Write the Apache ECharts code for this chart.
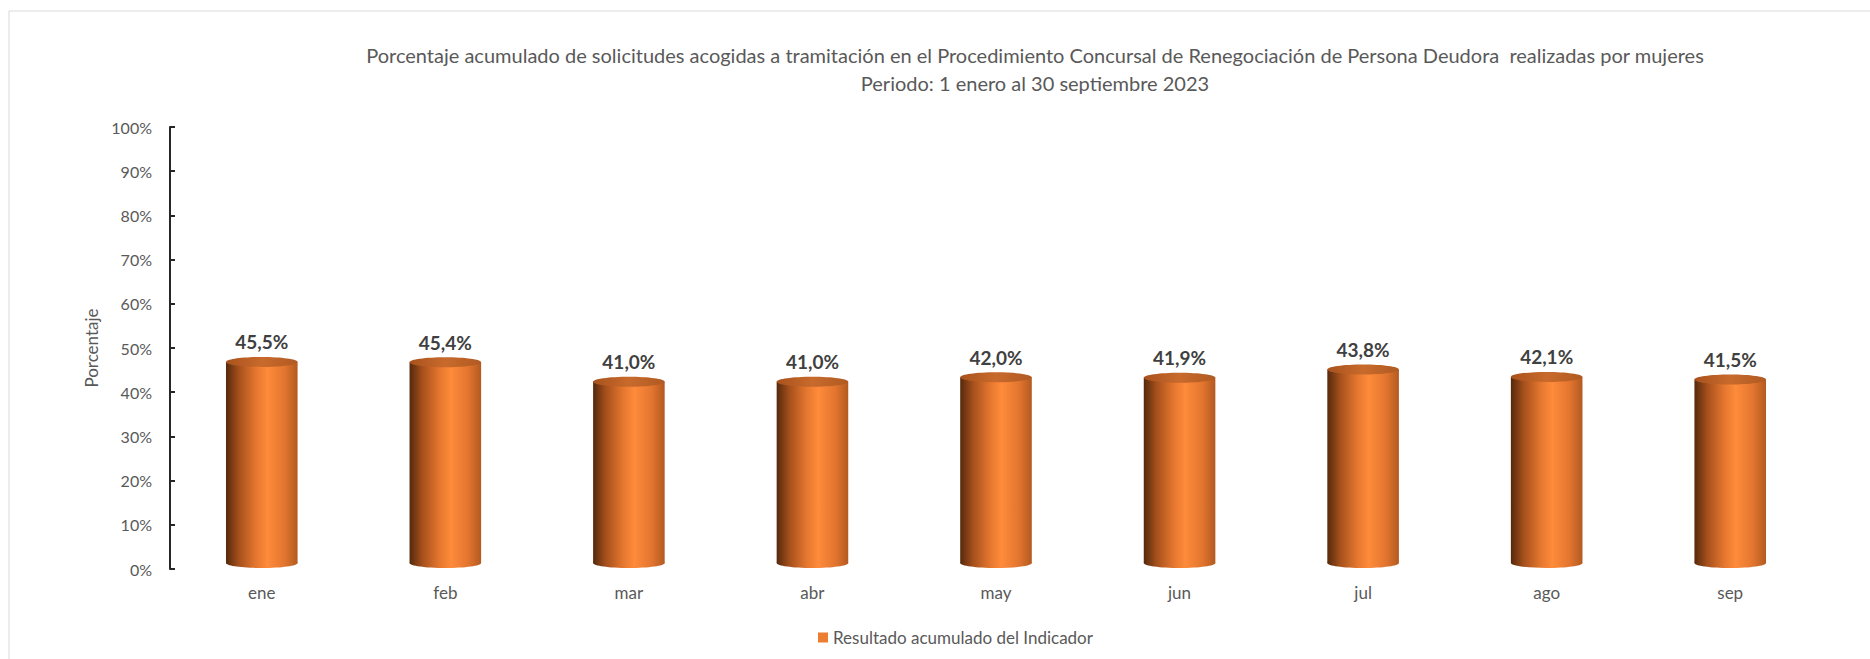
<!DOCTYPE html>
<html>
<head>
<meta charset="utf-8">
<script src="https://cdn.jsdelivr.net/npm/echarts@6/dist/echarts.min.js"></script>
<style>
html,body{margin:0;padding:0;background:#fff;}
#c{width:1870px;height:659px;}
</style>
</head>
<body>
<div id="c"></div>
<script>
const titleLine1 = 'Porcentaje acumulado de solicitudes acogidas a tramitación en el Procedimiento Concursal de Renegociación de Persona Deudora  realizadas por mujeres';
const titleLine2 = 'Periodo: 1 enero al 30 septiembre 2023';
const categories = ['ene','feb','mar','abr','may','jun','jul','ago','sep'];
const values = [45.5, 45.4, 41.0, 41.0, 42.0, 41.9, 43.8, 42.1, 41.5];
const seriesName = 'Resultado acumulado del Indicador';
const yAxisName = 'Porcentaje';

const FONT = 'Lato, "Open Sans", sans-serif';
const chart = echarts.init(document.getElementById('c'), null, {renderer:'svg'});

function bodyGrad(){
  return new echarts.graphic.LinearGradient(0,0,1,0,[
    {offset:0, color:'#55290c'},
    {offset:0.18, color:'#a6501c'},
    {offset:0.42, color:'#e5772f'},
    {offset:0.58, color:'#ff8b3b'},
    {offset:0.82, color:'#e2752f'},
    {offset:1, color:'#b35a20'}
  ]);
}
function topGrad(){
  return new echarts.graphic.LinearGradient(0,0,1,0,[
    {offset:0, color:'#a9521d'},
    {offset:0.5, color:'#c86a2c'},
    {offset:1, color:'#b05a22'}
  ]);
}
function fmt(v){ return v.toFixed(1).replace('.', ',') + '%'; }

function renderItem(params, api){
  const cat = api.value(0), v = api.value(1);
  const top = api.coord([cat, v]);
  const base = api.coord([cat, 0]);
  const bw = api.size([1, 0])[0] * 0.39;
  const dy = -6, ry = 5;
  const yTop = top[1] + dy, yBot = base[1] + dy;
  return {
    type:'group',
    children:[
      {type:'ellipse', shape:{cx:top[0], cy:yBot, rx:bw/2, ry:ry}, style:{fill:bodyGrad()}},
      {type:'rect', shape:{x:top[0]-bw/2, y:yTop, width:bw, height:yBot-yTop}, style:{fill:bodyGrad()}},
      {type:'ellipse', shape:{cx:top[0], cy:yTop, rx:bw/2, ry:ry}, style:{fill:topGrad()}},
      {type:'text', style:{text:fmt(v), x:top[0], y:yTop-20, align:'center', verticalAlign:'middle',
        fontFamily:FONT, fontSize:19, fontWeight:'bold', fill:'#404040'}}
    ]
  };
}

chart.setOption({
  backgroundColor:'#fff',
  animation:false,
  graphic:[{type:'rect', shape:{x:9, y:11, width:1900, height:700}, style:{fill:'none', stroke:'#d9d9d9', lineWidth:1}, z:-1}],
  title:{
    text: titleLine1 + '\n' + titleLine2,
    left:1030, top:36, textAlign:'center',
    textStyle:{fontFamily:FONT, fontSize:20, fontWeight:'normal', color:'#595959', lineHeight:28}
  },
  legend:{
    data:[seriesName], left:813, top:624, itemWidth:10, itemHeight:10, icon:'rect',
    textStyle:{fontFamily:FONT, fontSize:17, color:'#595959'}
  },
  grid:{left:170, right:48, top:127, bottom:90},
  xAxis:{
    type:'category', data:categories,
    axisLine:{show:false}, axisTick:{show:false},
    axisLabel:{fontFamily:FONT, fontSize:17, color:'#595959', margin:15}
  },
  yAxis:{
    type:'value', min:0, max:100, interval:10,
    name:yAxisName, nameLocation:'middle', nameRotate:90, nameGap:67,
    nameTextStyle:{fontFamily:FONT, fontSize:17, color:'#595959'},
    axisLine:{show:true, lineStyle:{color:'#262626', width:2}},
    axisTick:{show:true, inside:true, length:5, lineStyle:{color:'#262626', width:2}},
    splitLine:{show:false},
    axisLabel:{formatter:'{value}%', fontFamily:FONT, fontSize:16, color:'#595959', margin:18}
  },
  series:[{
    name:seriesName, type:'custom', renderItem:renderItem,
    itemStyle:{color:'#ed7d31'},
    encode:{x:0, y:1},
    data: categories.map((c,i)=>[i, values[i]])
  }]
});
</script>
</body>
</html>
